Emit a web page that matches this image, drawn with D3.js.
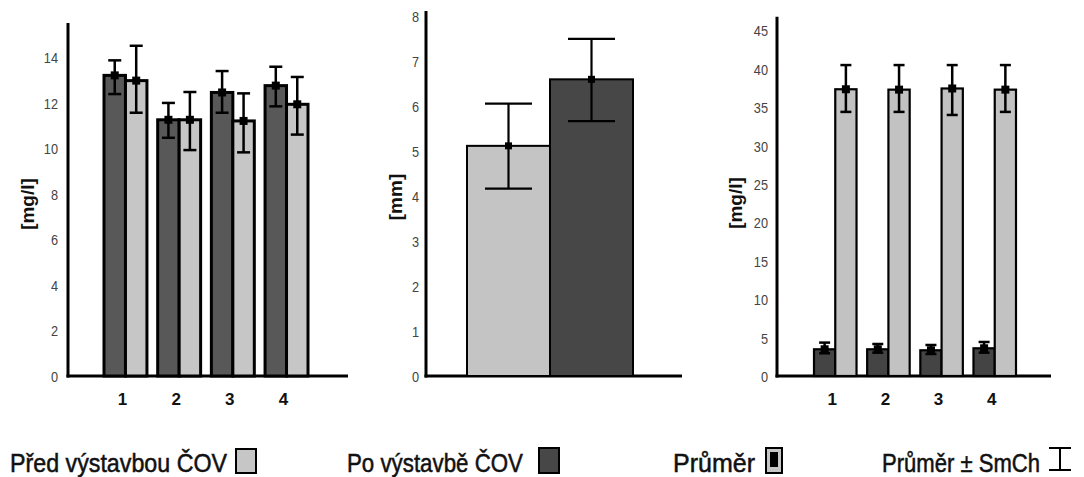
<!DOCTYPE html>
<html>
<head>
<meta charset="utf-8">
<script src="https://cdn.jsdelivr.net/npm/d3@7"></script>
<style>
  html, body { margin: 0; padding: 0; background: #fff; }
  svg { display: block; }
  .tick text { font-family: "Liberation Sans Narrow", "Arial Narrow", "Liberation Sans", Arial, sans-serif; fill: #444; }
</style>
</head>
<body>
<svg id="chart" width="1084" height="477"></svg>
<script>
// ---------- DATA ----------
const categories = ["1", "2", "3", "4"];
const seriesNames = ["Po výstavbě ČOV", "Před výstavbou ČOV"];

// Panel A: [mg/l]
const aTicks = [0, 2, 4, 6, 8, 10, 12, 14];
const aPoMean  = [13.2, 11.25, 12.45, 12.75];
const aPoLow   = [12.38, 10.46, 11.56, 11.84];
const aPoHigh  = [13.86, 11.99, 13.39, 13.58];
const aPredMean = [12.97, 11.25, 11.2, 11.93];
const aPredLow  = [11.56, 9.92, 9.82, 10.6];
const aPredHigh = [14.5, 12.47, 12.41, 13.13];

// Panel B: [mm]
const bTicks = [0, 1, 2, 3, 4, 5, 6, 7, 8];
const bNames = ["Před výstavbou ČOV", "Po výstavbě ČOV"];
const bMean = [5.12, 6.6];
const bLow  = [4.17, 5.67];
const bHigh = [6.06, 7.5];

// Panel C: [mg/l]
const cTicks = [0, 5, 10, 15, 20, 25, 30, 35, 40, 45];
const cPoMean  = [3.48, 3.48, 3.35, 3.61];
const cPoLow   = [2.96, 3.04, 2.87, 3.04];
const cPoHigh  = [4.35, 4.17, 4.04, 4.43];
const cPredMean = [37.35, 37.3, 37.45, 37.3];
const cPredLow  = [34.4, 34.4, 34.0, 34.4];
const cPredHigh = [40.5, 40.5, 40.5, 40.5];

const legendLabels = ["Před výstavbou ČOV", "Po výstavbě ČOV", "Průměr", "Průměr ± SmCh"];

// ---------- STYLE ----------
const DARK = "#585858", LIGHT = "#c6c6c6";
const DARK_B = "#474747", LIGHT_B = "#c4c4c4";

const svg = d3.select("#chart");

function drawAxes(g, y, ticks, x0, x1, yTop, yBase, title, titleX, titleY, labelRight) {
  const ax = g.append("g").attr("transform", `translate(${labelRight},0)`)
    .call(d3.axisLeft(y).tickValues(ticks).tickSize(0).tickPadding(0).tickFormat(d3.format("d")));
  ax.select(".domain").remove();
  ax.selectAll("text").style("font-size", "15px").attr("dy", "0.36em")
    .attr("transform", "scale(0.85,1)");
  g.append("line").attr("x1", x0).attr("x2", x0).attr("y1", yTop).attr("y2", yBase + 1.5)
    .attr("stroke", "#000").attr("stroke-width", 3);
  g.append("line").attr("x1", x0 - 1.5).attr("x2", x1).attr("y1", yBase).attr("y2", yBase)
    .attr("stroke", "#000").attr("stroke-width", 3);
  g.append("text").attr("transform", `translate(${titleX},${titleY}) rotate(-90)`)
    .attr("text-anchor", "middle").attr("dy", "0.35em")
    .style("font-family", "Liberation Sans, Arial, sans-serif").style("font-weight", "bold")
    .style("font-size", "19px").attr("fill", "#111").text(title);
}

function errBar(g, cx, y, lo, hi, capW, sw) {
  g.append("line").attr("x1", cx).attr("x2", cx).attr("y1", y(hi)).attr("y2", y(lo))
    .attr("stroke", "#000").attr("stroke-width", sw);
  [lo, hi].forEach(v => g.append("line").attr("x1", cx - capW / 2).attr("x2", cx + capW / 2)
    .attr("y1", y(v)).attr("y2", y(v)).attr("stroke", "#000").attr("stroke-width", sw));
}

function groupedPanel(opts) {
  const g = svg.append("g");
  const y = d3.scaleLinear().domain([0, opts.yMax]).range([opts.yBase, opts.yTop]);
  const x = d3.scaleBand().domain(categories).range(opts.xRange).paddingInner(0.2).paddingOuter(0);
  const xs = d3.scaleBand().domain(seriesNames).range([0, x.bandwidth()]);
  drawAxes(g, y, opts.ticks, opts.axisX, opts.axisEnd, opts.yTop, opts.yBase, opts.title, opts.titleX, opts.titleY, opts.labelRight);

  const series = [
    { name: seriesNames[0], mean: opts.poMean, lo: opts.poLow, hi: opts.poHigh, fill: opts.dark },
    { name: seriesNames[1], mean: opts.predMean, lo: opts.predLow, hi: opts.predHigh, fill: opts.light }
  ];
  series.forEach(s => {
    categories.forEach((c, i) => {
      const bx = x(c) + xs(s.name);
      g.append("rect").attr("x", bx).attr("y", y(s.mean[i]))
        .attr("width", xs.bandwidth()).attr("height", y(0) - y(s.mean[i]))
        .attr("fill", s.fill).attr("stroke", "#000").attr("stroke-width", opts.barStroke);
    });
  });
  series.forEach(s => {
    categories.forEach((c, i) => {
      const cx = x(c) + xs(s.name) + xs.bandwidth() / 2;
      errBar(g, cx, y, s.lo[i], s.hi[i], opts.capW, 2.5);
      g.append("rect").attr("x", cx - 4).attr("y", y(s.mean[i]) - 4).attr("width", 8).attr("height", 8).attr("fill", "#000");
    });
  });
  categories.forEach(c => {
    g.append("text").attr("x", x(c) + x.bandwidth() / 2 - 3).attr("y", 405)
      .attr("text-anchor", "middle")
      .style("font-family", "Liberation Sans, Arial, sans-serif").style("font-weight", "bold")
      .style("font-size", "17px").attr("fill", "#111").text(c);
  });
}

// Panel A
groupedPanel({
  yMax: 15.5, yBase: 376, yTop: 23, ticks: aTicks,
  xRange: [104, 308], axisX: 68, axisEnd: 348, labelRight: 58,
  title: "[mg/l]", titleX: 27, titleY: 204,
  poMean: aPoMean, poLow: aPoLow, poHigh: aPoHigh,
  predMean: aPredMean, predLow: aPredLow, predHigh: aPredHigh,
  dark: DARK, light: LIGHT, barStroke: 3, capW: 13
});

// Panel C
groupedPanel({
  yMax: 46.8, yBase: 376, yTop: 16.7, ticks: cTicks,
  xRange: [814, 1016], axisX: 777, axisEnd: 1051, labelRight: 768,
  title: "[mg/l]", titleX: 735, titleY: 203,
  poMean: cPoMean, poLow: cPoLow, poHigh: cPoHigh,
  predMean: cPredMean, predLow: cPredLow, predHigh: cPredHigh,
  dark: "#444", light: "#c2c2c2", barStroke: 2.2, capW: 11
});

// Panel B
(function () {
  const g = svg.append("g");
  const yBase = 376, yTop = 11;
  const y = d3.scaleLinear().domain([0, 8.12]).range([yBase, yTop]);
  const x = d3.scaleBand().domain(bNames).range([467, 633]);
  drawAxes(g, y, bTicks, 426, 682, yTop, yBase, "[mm]", 395, 197, 419);
  const fills = [LIGHT_B, DARK_B];
  bNames.forEach((n, i) => {
    g.append("rect").attr("x", x(n)).attr("y", y(bMean[i])).attr("width", x.bandwidth())
      .attr("height", y(0) - y(bMean[i])).attr("fill", fills[i]).attr("stroke", "#000").attr("stroke-width", 2);
  });
  bNames.forEach((n, i) => {
    const cx = x(n) + x.bandwidth() / 2;
    errBar(g, cx, y, bLow[i], bHigh[i], 47, 2.2);
    g.append("rect").attr("x", cx - 3.5).attr("y", y(bMean[i]) - 3.5).attr("width", 7).attr("height", 7).attr("fill", "#000");
  });
})();

// ---------- LEGEND ----------
(function () {
  const lg = svg.append("g").style("font-family", "Liberation Sans, Arial, sans-serif");
  const textX = [10, 347, 673, 882];
  const textW = [217, 176, 82, 158];
  const symX = [235, 538, 765, 1048];
  legendLabels.forEach((t, i) => {
    lg.append("text").attr("x", textX[i]).attr("y", 472).style("font-size", "25px")
      .attr("textLength", textW[i]).attr("lengthAdjust", "spacingAndGlyphs")
      .attr("fill", "#111").attr("stroke", "#111").attr("stroke-width", 0.5).text(t);
  });
  lg.append("rect").attr("x", symX[0] + 1).attr("y", 449).attr("width", 20).attr("height", 24)
    .attr("fill", LIGHT).attr("stroke", "#000").attr("stroke-width", 2);
  lg.append("rect").attr("x", symX[1] + 1).attr("y", 448).attr("width", 20).attr("height", 25)
    .attr("fill", DARK_B).attr("stroke", "#000").attr("stroke-width", 2);
  lg.append("rect").attr("x", symX[2] + 1).attr("y", 448).attr("width", 16).attr("height", 25)
    .attr("fill", LIGHT).attr("stroke", "#000").attr("stroke-width", 2);
  lg.append("rect").attr("x", symX[2] + 5).attr("y", 452).attr("width", 8).attr("height", 15).attr("fill", "#000");
  const ex = symX[3] + 12;
  lg.append("line").attr("x1", ex).attr("x2", ex).attr("y1", 448).attr("y2", 470).attr("stroke", "#000").attr("stroke-width", 2);
  lg.append("line").attr("x1", ex - 11).attr("x2", ex + 11).attr("y1", 448).attr("y2", 448).attr("stroke", "#000").attr("stroke-width", 2);
  lg.append("line").attr("x1", ex - 11).attr("x2", ex + 11).attr("y1", 470).attr("y2", 470).attr("stroke", "#000").attr("stroke-width", 2);
})();
</script>
</body>
</html>
